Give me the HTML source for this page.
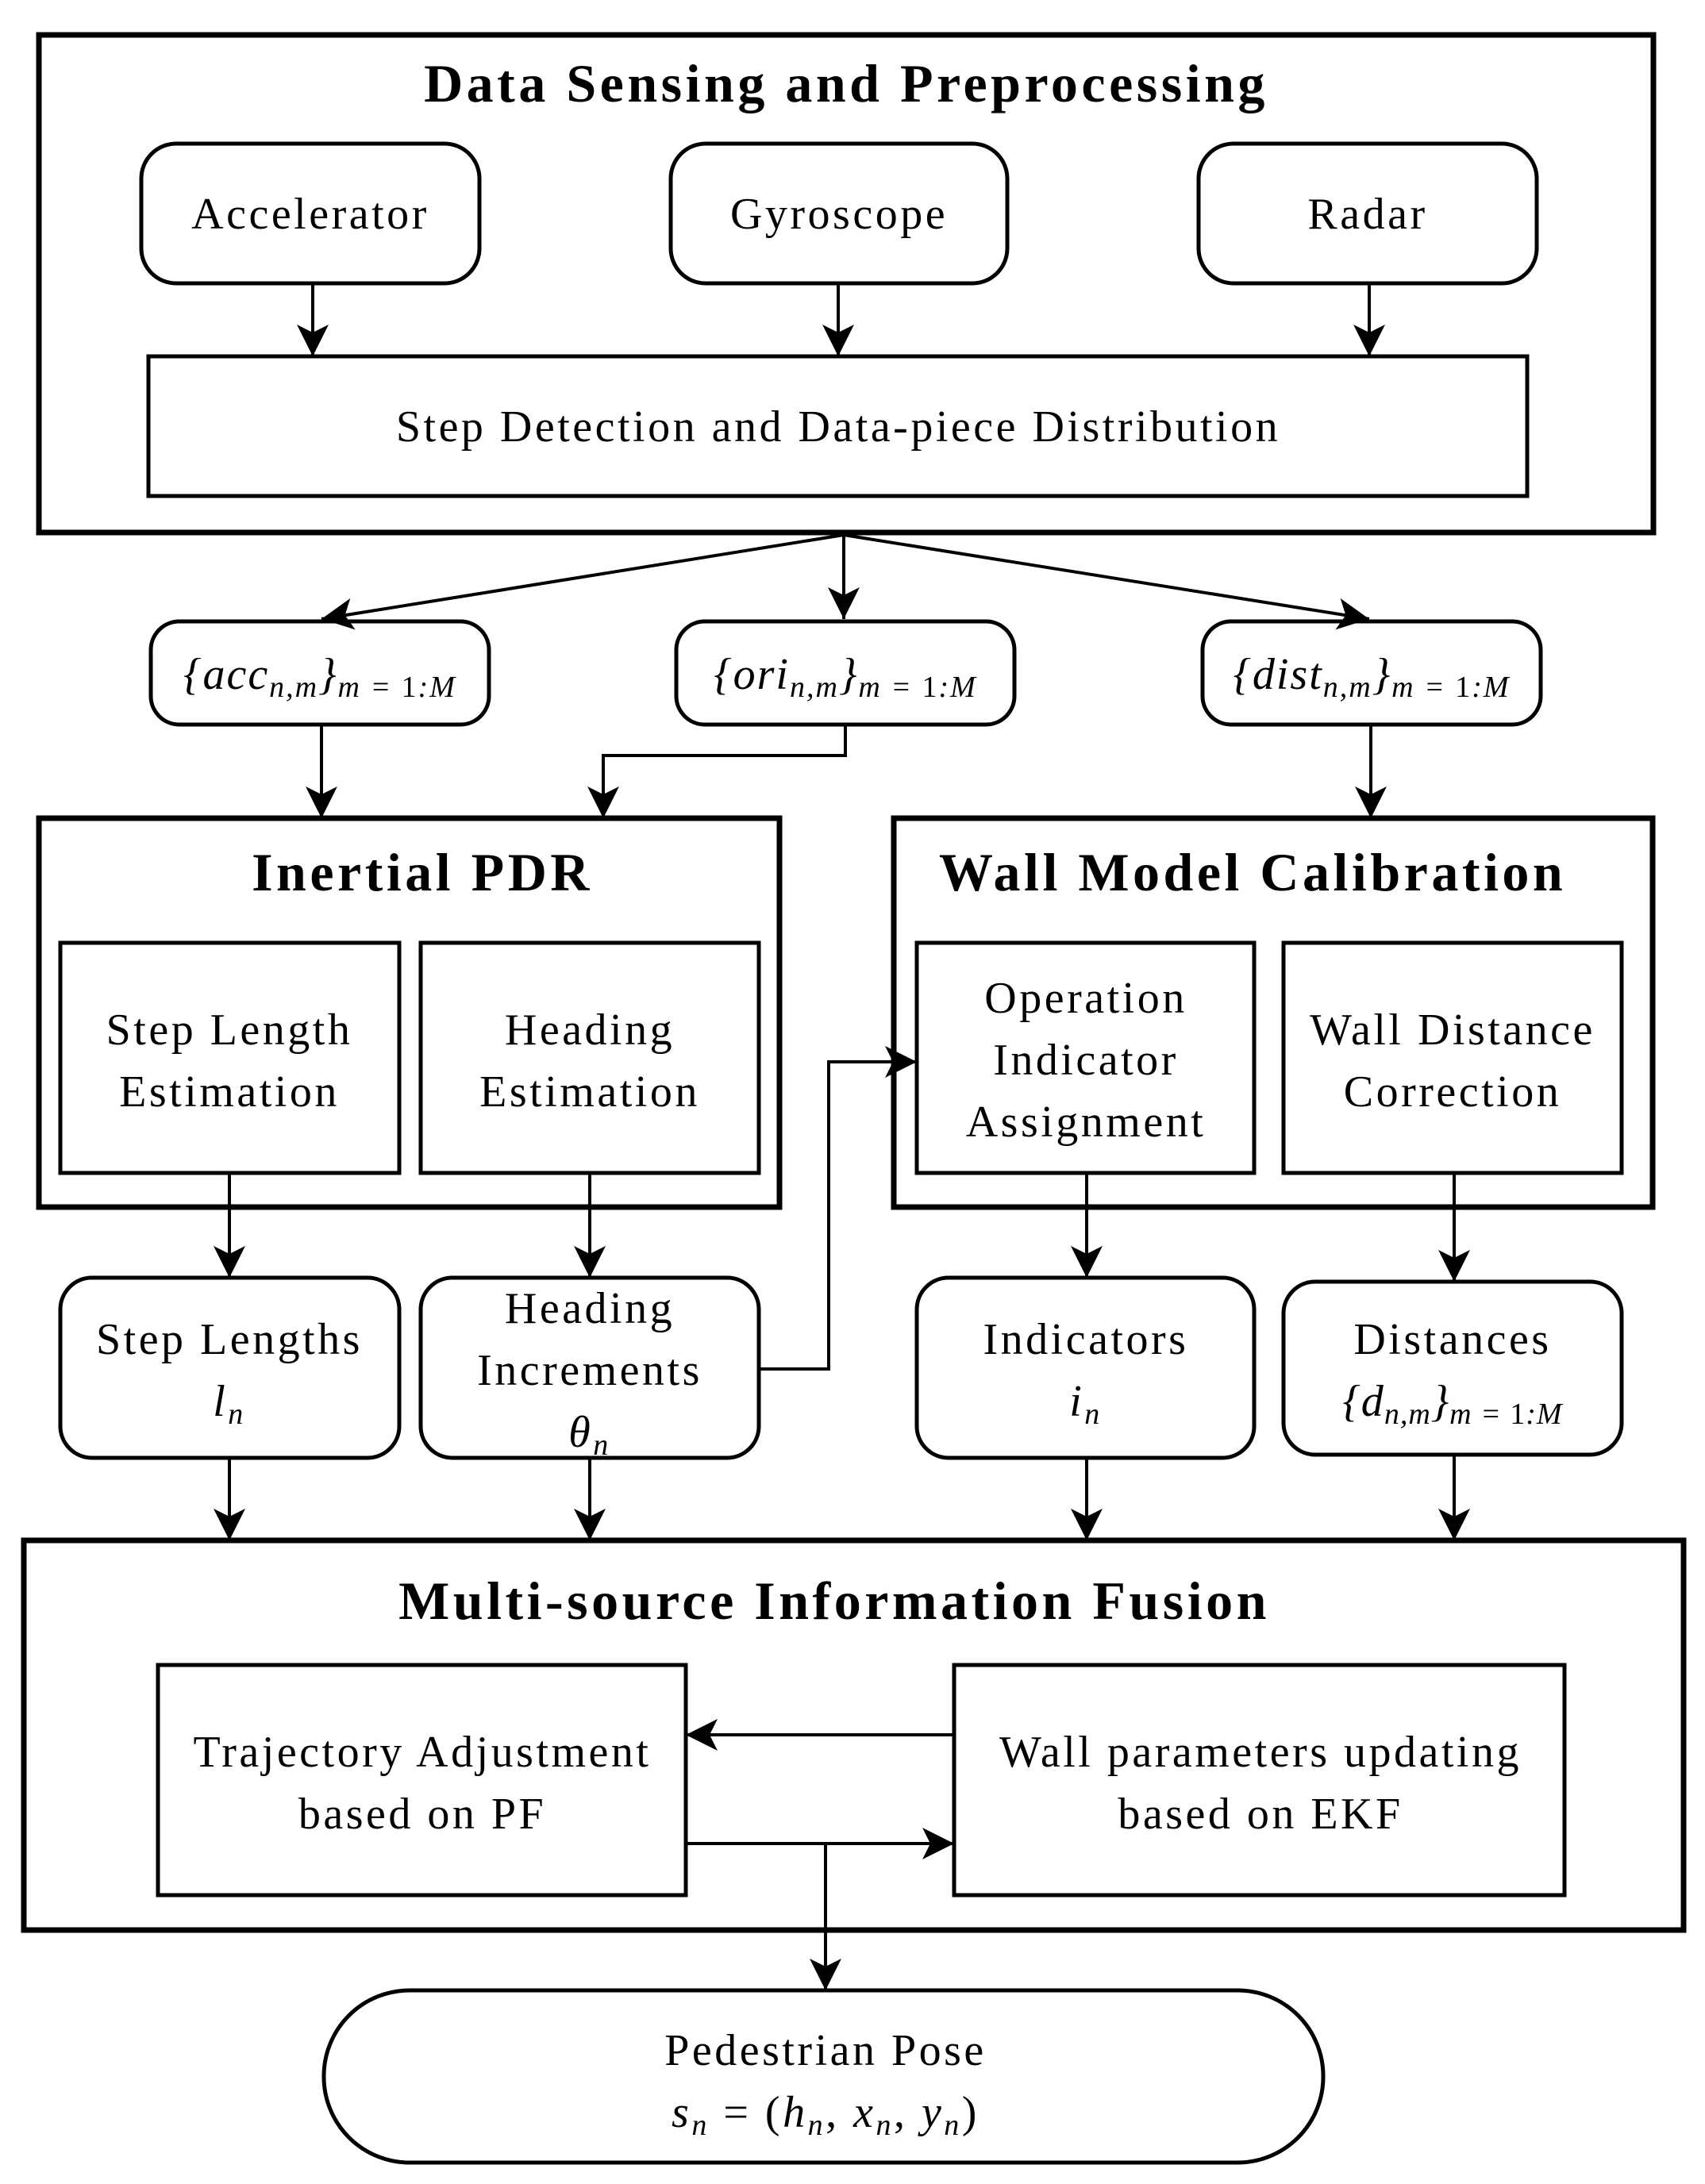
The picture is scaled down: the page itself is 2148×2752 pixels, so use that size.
<!DOCTYPE html>
<html><head><meta charset="utf-8"><style>html,body{margin:0;padding:0;background:#fff}svg{display:block}</style></head>
<body>
<svg width="2148" height="2752" viewBox="0 0 2148 2752" xmlns="http://www.w3.org/2000/svg" font-family="Liberation Serif, serif">
<defs>
<marker id="ah" viewBox="0 0 20 20" refX="20" refY="10" markerWidth="40" markerHeight="40" markerUnits="userSpaceOnUse" orient="auto"><path d="M0,0 L20,10 L0,20 L5,10 Z" fill="#000"/></marker>
</defs>
<g fill="none" stroke="#000">
<rect x="49" y="44" width="2034" height="627" stroke-width="7"/>
<rect x="178" y="181" width="426" height="176" rx="44" stroke-width="5"/>
<rect x="845" y="181" width="424" height="176" rx="44" stroke-width="5"/>
<rect x="1510" y="181" width="426" height="176" rx="44" stroke-width="5"/>
<rect x="187" y="449" width="1737" height="176" stroke-width="5"/>
<rect x="190" y="783" width="426" height="130" rx="36" stroke-width="5"/>
<rect x="852" y="783" width="426" height="130" rx="36" stroke-width="5"/>
<rect x="1515" y="783" width="426" height="130" rx="36" stroke-width="5"/>
<rect x="49" y="1031" width="933" height="490" stroke-width="7"/>
<rect x="1126" y="1031" width="956" height="490" stroke-width="7"/>
<rect x="76" y="1188" width="427" height="290" stroke-width="5"/>
<rect x="530" y="1188" width="426" height="290" stroke-width="5"/>
<rect x="1155" y="1188" width="425" height="290" stroke-width="5"/>
<rect x="1617" y="1188" width="426" height="290" stroke-width="5"/>
<rect x="76" y="1610" width="427" height="227" rx="40" stroke-width="5"/>
<rect x="530" y="1610" width="426" height="227" rx="40" stroke-width="5"/>
<rect x="1155" y="1610" width="425" height="227" rx="40" stroke-width="5"/>
<rect x="1617" y="1615" width="426" height="218" rx="40" stroke-width="5"/>
<rect x="30" y="1941" width="2091" height="491" stroke-width="7"/>
<rect x="199" y="2098" width="665" height="290" stroke-width="5"/>
<rect x="1202" y="2098" width="769" height="290" stroke-width="5"/>
<rect x="408" y="2508" width="1259" height="217" rx="108" stroke-width="5"/>
<g stroke-width="4" marker-end="url(#ah)">
<line x1="394" y1="357" x2="394" y2="449"/>
<line x1="1056" y1="357" x2="1056" y2="449"/>
<line x1="1725" y1="357" x2="1725" y2="449"/>
<line x1="1063" y1="674" x2="405" y2="780"/>
<line x1="1063" y1="674" x2="1063" y2="780"/>
<line x1="1063" y1="674" x2="1725" y2="780"/>
<line x1="405" y1="913" x2="405" y2="1031"/>
<polyline points="1065,913 1065,952 760,952 760,1031"/>
<line x1="1727" y1="913" x2="1727" y2="1031"/>
<line x1="289" y1="1478" x2="289" y2="1610"/>
<line x1="743" y1="1478" x2="743" y2="1610"/>
<line x1="1369" y1="1478" x2="1369" y2="1610"/>
<line x1="1832" y1="1478" x2="1832" y2="1615"/>
<polyline points="956,1725 1044,1725 1044,1338 1155,1338"/>
<line x1="289" y1="1837" x2="289" y2="1941"/>
<line x1="743" y1="1837" x2="743" y2="1941"/>
<line x1="1369" y1="1837" x2="1369" y2="1941"/>
<line x1="1832" y1="1833" x2="1832" y2="1941"/>
<line x1="1202" y1="2186" x2="864" y2="2186"/>
<line x1="864" y1="2323" x2="1202" y2="2323"/>
<line x1="1040" y1="2323" x2="1040" y2="2508"/>
</g>
</g>
<g fill="#000" text-anchor="middle" font-size="56" letter-spacing="3.5">
<g font-size="68" font-weight="bold" letter-spacing="4.5">
<text x="1066" y="128">Data Sensing and Preprocessing</text>
<text x="532" y="1122">Inertial PDR</text>
<text x="1578" y="1122">Wall Model Calibration</text>
<text x="1051" y="2040">Multi-source Information Fusion</text>
</g>
<text x="391" y="288">Accelerator</text>
<text x="1057" y="288">Gyroscope</text>
<text x="1723" y="288">Radar</text>
<text x="1056" y="556">Step Detection and Data-piece Distribution</text>
<g letter-spacing="2">
<text x="403" y="868" font-style="italic">{acc<tspan font-size="38" dy="10">n,m</tspan><tspan dy="-10">}</tspan><tspan font-size="38" dy="10">m = <tspan font-style="normal">1</tspan>:M</tspan></text>
<text x="1065" y="868" font-style="italic">{ori<tspan font-size="38" dy="10">n,m</tspan><tspan dy="-10">}</tspan><tspan font-size="38" dy="10">m = <tspan font-style="normal">1</tspan>:M</tspan></text>
<text x="1728" y="868" font-style="italic">{dist<tspan font-size="38" dy="10">n,m</tspan><tspan dy="-10">}</tspan><tspan font-size="38" dy="10">m = <tspan font-style="normal">1</tspan>:M</tspan></text>
</g>
<text x="289" y="1316">Step Length</text><text x="289" y="1394">Estimation</text>
<text x="743" y="1316">Heading</text><text x="743" y="1394">Estimation</text>
<text x="1368" y="1276">Operation</text><text x="1368" y="1354">Indicator</text><text x="1368" y="1432">Assignment</text>
<text x="1830" y="1316">Wall Distance</text><text x="1830" y="1394">Correction</text>
<text x="289" y="1706">Step Lengths</text><text x="289" y="1784" font-style="italic">l<tspan font-size="38" dy="10">n</tspan></text>
<text x="743" y="1667">Heading</text><text x="743" y="1745">Increments</text><text x="743" y="1823" font-style="italic">θ<tspan font-size="38" dy="10">n</tspan></text>
<text x="1368" y="1706">Indicators</text><text x="1368" y="1784" font-style="italic">i<tspan font-size="38" dy="10">n</tspan></text>
<text x="1830" y="1706">Distances</text><text x="1830" y="1784" font-style="italic" letter-spacing="1">{d<tspan font-size="38" dy="10">n,m</tspan><tspan dy="-10">}</tspan><tspan font-size="38" dy="10">m = <tspan font-style="normal">1</tspan>:M</tspan></text>
<text x="532" y="2226">Trajectory Adjustment</text><text x="532" y="2304">based on PF</text>
<text x="1588" y="2226">Wall parameters updating</text><text x="1588" y="2304">based on EKF</text>
<text x="1040" y="2602">Pedestrian Pose</text>
<text x="1040" y="2680" font-style="italic">s<tspan font-size="38" dy="10">n</tspan><tspan dy="-10" font-style="normal"> = (</tspan>h<tspan font-size="38" dy="10">n</tspan><tspan dy="-10" font-style="normal">, </tspan>x<tspan font-size="38" dy="10">n</tspan><tspan dy="-10" font-style="normal">, </tspan>y<tspan font-size="38" dy="10">n</tspan><tspan dy="-10" font-style="normal">)</tspan></text>
</g>
</svg>
</body></html>
